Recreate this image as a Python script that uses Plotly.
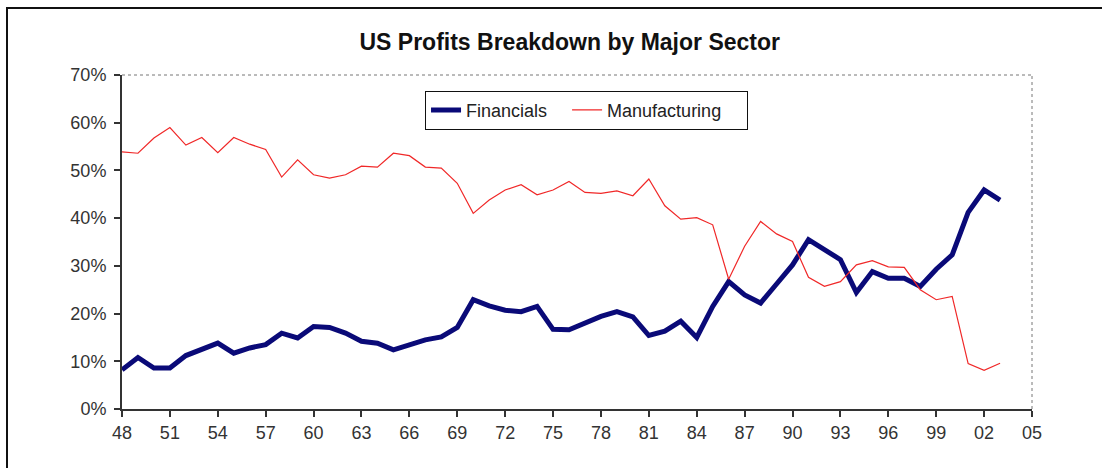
import plotly.graph_objects as go

# Share of total US corporate profits by sector, 1948-2003
years = list(range(1948, 2004))

financials = [
    8.2, 10.8, 8.6, 8.6, 11.2, 12.4, 13.8, 11.7, 12.8, 13.5,
    15.9, 14.9, 17.3, 17.1, 15.9, 14.2, 13.8, 12.4, 13.5, 14.5,
    15.1, 17.1, 22.9, 21.6, 20.7, 20.4, 21.5, 16.7, 16.6, 18.0,
    19.4, 20.4, 19.3, 15.4, 16.3, 18.4, 15.0, 21.5, 26.7, 23.9,
    22.2, 26.2, 30.2, 35.5, 33.5, 31.3, 24.4, 28.8, 27.4, 27.4,
    25.7, 29.3, 32.3, 41.2, 45.9, 43.8,
]

manufacturing = [
    53.9, 53.6, 56.8, 59.0, 55.3, 56.9, 53.7, 56.9, 55.5, 54.4,
    48.6, 52.2, 49.1, 48.4, 49.1, 50.9, 50.7, 53.6, 53.1, 50.7,
    50.5, 47.3, 41.0, 43.8, 45.9, 47.0, 44.9, 45.9, 47.7, 45.4,
    45.2, 45.7, 44.7, 48.2, 42.6, 39.8, 40.1, 38.6, 27.2, 34.1,
    39.3, 36.7, 35.1, 27.6, 25.7, 26.7, 30.2, 31.1, 29.8, 29.7,
    25.0, 22.9, 23.6, 9.5, 8.1, 9.6,
]

tick_years = list(range(1948, 2006, 3))
tick_labels = [f"{y % 100:02d}" for y in tick_years]

FONT = "Arial, Liberation Sans, sans-serif"
NBSP = "\u00a0"

fig = go.Figure()
fig.add_trace(go.Scatter(
    x=years, y=[v / 100 for v in financials], name="Financials" + NBSP * 3,
    mode="lines", line=dict(color="#0a0a78", width=5),
))
fig.add_trace(go.Scatter(
    x=years, y=[v / 100 for v in manufacturing], name="Manufacturing" + NBSP * 4,
    mode="lines", line=dict(color="#f02828", width=1.2),
))

fig.update_layout(
    width=1102, height=468,
    margin=dict(l=122, r=70, t=75, b=59),
    paper_bgcolor="white", plot_bgcolor="white",
    font=dict(family=FONT, size=18, color="#333333"),
    title=dict(
        text="<b>US Profits Breakdown by Major Sector</b>",
        x=0.517, xanchor="center", y=0.91, yanchor="middle",
        font=dict(family=FONT, size=23, color="#111111"),
    ),
    legend=dict(
        orientation="h", x=0.333, xanchor="left", y=0.953, yanchor="top",
        bgcolor="white", bordercolor="#111111", borderwidth=1,
        font=dict(family=FONT, size=18, color="#222222"),
        itemwidth=30, tracegroupgap=0,
    ),
    showlegend=True,
)

fig.update_xaxes(
    range=[1948, 2005], tickvals=tick_years, ticktext=tick_labels,
    showgrid=False, zeroline=False,
    showline=True, linecolor="#333333", linewidth=2,
    ticks="outside", ticklen=6, tickwidth=1.5, tickcolor="#333333",
    tickfont=dict(size=18, color="#333333"),
)
fig.update_yaxes(
    range=[0, 0.7], dtick=0.1, tickformat=".0%",
    showgrid=False, zeroline=False,
    showline=True, linecolor="#333333", linewidth=2,
    ticks="outside", ticklen=6, tickwidth=1.5, tickcolor="#333333",
    ticklabelstandoff=4,
    tickfont=dict(size=18, color="#333333"),
)

# Dotted frame on the top and right of the plot area
fig.add_shape(type="line", xref="paper", yref="paper", x0=0, x1=1, y0=1, y1=1,
              line=dict(color="#777777", width=1, dash="dot"))
fig.add_shape(type="line", xref="paper", yref="paper", x0=1, x1=1, y0=0, y1=1,
              line=dict(color="#777777", width=1, dash="dot"))

# Outer chart border (left and top edges visible)
fig.add_shape(type="rect", xref="paper", yref="paper",
              x0=(7 - 122) / 910, x1=(1120 - 122) / 910,
              y0=(409 - 480) / 334, y1=(409 - 8) / 334,
              line=dict(color="#111111", width=2), fillcolor="rgba(0,0,0,0)",
              layer="below")

fig.write_html("out.html")
